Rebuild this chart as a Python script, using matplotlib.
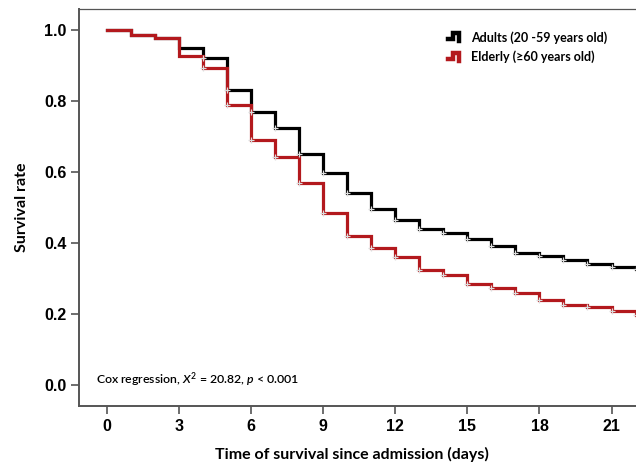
"""
Kaplan-Meier style survival curves: adults vs elderly
"""

import matplotlib.pyplot as plt
from matplotlib.legend_handler import HandlerBase
from matplotlib.lines import Line2D

# survival estimates, one value per day (step after)
days = [0, 1, 2, 3, 4, 5, 6, 7, 8, 9, 10, 11, 12, 13, 14, 15, 16, 17, 18, 19, 20, 21, 22]
adults = [1.0, 0.986, 0.975, 0.949, 0.921, 0.830, 0.768, 0.722, 0.651, 0.595, 0.539,
          0.494, 0.465, 0.438, 0.426, 0.409, 0.390, 0.372, 0.362, 0.351, 0.341, 0.332, 0.325]
elderly = [1.0, 0.986, 0.975, 0.926, 0.891, 0.787, 0.689, 0.642, 0.567, 0.484, 0.418,
           0.384, 0.360, 0.322, 0.310, 0.285, 0.271, 0.257, 0.240, 0.224, 0.219, 0.208, 0.195]
group_names = ["Adults (20 -59 years old)", "Elderly (\u226560 years old)"]

x_ticks = [0, 3, 6, 9, 12, 15, 18, 21]
y_ticks = [0.0, 0.2, 0.4, 0.6, 0.8, 1.0]

BLACK = "#000000"
RED = "#b3191d"
GREY = "#555555"
LABEL_FONT = "Lato"

plt.rcParams["mathtext.fontset"] = "custom"
plt.rcParams["mathtext.it"] = "Lato:italic:semibold"
plt.rcParams["mathtext.rm"] = "Lato:semibold"


class StepHandler(HandlerBase):
    """Legend icon shaped like a small survival step"""

    def create_artists(self, legend, orig_handle, xdescent, ydescent,
                       width, height, fontsize, trans):
        w, h = width, height
        xs = [-xdescent, -xdescent + 0.45 * w, -xdescent + 0.45 * w, -xdescent + w, -xdescent + w]
        ys = [0.25 * h, 0.25 * h, 0.95 * h, 0.95 * h, 0.05 * h]
        line = Line2D(xs, ys, color=orig_handle.get_color(), lw=3.2,
                      solid_joinstyle="miter", transform=trans)
        return [line]


fig = plt.figure(figsize=(6.36, 4.70), dpi=100)
ax = fig.add_axes([0.124, 0.136, 0.876, 0.845])

# adults first so the red curve sits on top where they overlap
l_adult, = ax.step(days, adults, where="post", color=BLACK, lw=2.3, solid_joinstyle="miter")
l_old, = ax.step(days, elderly, where="post", color=RED, lw=2.3, solid_joinstyle="miter")

# censoring marks at the corners
ax.plot(days[4:], adults[4:], ls="none", marker="+", ms=4, mew=0.9, color="#dcdcdc", zorder=4)
ax.plot(days[4:], elderly[4:], ls="none", marker="+", ms=4, mew=0.9, color="#dcdcdc", zorder=4)

ax.set_xlim(-1.18, 22.02)
ax.set_ylim(-0.06, 1.058)
ax.set_xticks(x_ticks)
ax.set_yticks(y_ticks)
ax.set_yticklabels([f"{v:.1f}" for v in y_ticks])

for lab in ax.get_xticklabels() + ax.get_yticklabels():
    lab.set_fontfamily("Liberation Sans")
    lab.set_fontweight("bold")
    lab.set_fontsize(11.5)

ax.tick_params(direction="out", length=6, width=1.2, color=GREY, pad=3)
for side in ("left", "bottom", "top"):
    ax.spines[side].set_color(GREY)
ax.spines["left"].set_linewidth(1.4)
ax.spines["bottom"].set_linewidth(1.4)
ax.spines["top"].set_linewidth(0.9)
ax.spines["right"].set_visible(False)

ax.set_xlabel("Time of survival since admission (days)", fontfamily=LABEL_FONT,
              fontweight="bold", fontsize=11.5)
ax.xaxis.set_label_coords(0.49, -0.103)
ax.set_ylabel("Survival rate", fontfamily=LABEL_FONT, fontweight="bold",
              fontsize=11.5, labelpad=11)

ax.text(0.03, 0.066, r"Cox regression, $\mathit{X}^2$ = 20.82, $\mathit{p}$ < 0.001",
        transform=ax.transAxes, fontfamily=LABEL_FONT, fontsize=8.8,
        fontweight="semibold", va="center", ha="left")

leg = ax.legend([l_adult, l_old], group_names, handler_map={Line2D: StepHandler()},
                loc="upper left", bbox_to_anchor=(0.686, 0.958), bbox_transform=fig.transFigure,
                frameon=False, handlelength=0.95, handletextpad=0.95, labelspacing=0.55,
                prop={"family": LABEL_FONT, "weight": "bold", "size": 9})

fig.savefig("out.png", dpi=100)
